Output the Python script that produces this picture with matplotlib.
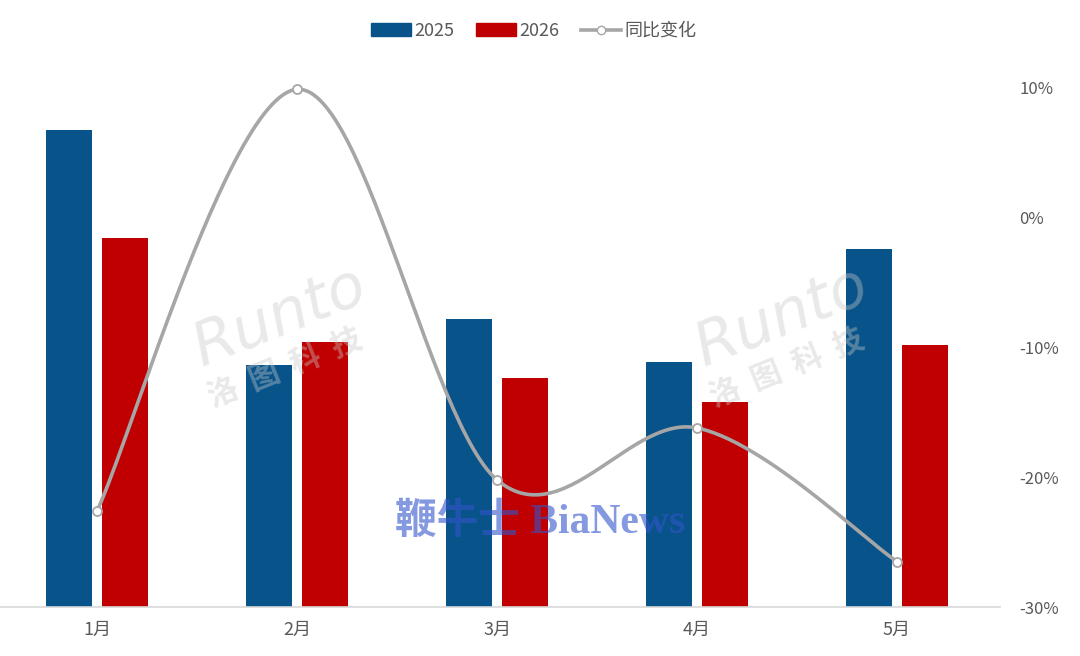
import numpy as np
import matplotlib.pyplot as plt
from matplotlib.patches import Patch
from matplotlib.lines import Line2D

plt.rcParams['font.family'] = ['Noto Sans CJK SC', 'DejaVu Sans']

# data
months = ['1月', '2月', '3月', '4月', '5月']
sales_2025 = [477, 242, 288, 245, 358]
sales_2026 = [369, 265, 229, 205, 262]
yoy = [-22.6, 9.9, -20.2, -16.2, -26.5]
yoy_ticks = [-30, -20, -10, 0, 10]

blue = '#08538A'
red = '#C00000'
grey_line = '#A6A6A6'
txt = '#595959'


def smooth(xs, ys, n=60):
    # Excel-like smoothed line (bezier through the points)
    xs = np.asarray(xs, float)
    ys = np.asarray(ys, float)
    px = np.concatenate([[xs[0]], xs, [xs[-1]]])
    py = np.concatenate([[ys[0]], ys, [ys[-1]]])
    out_x, out_y = [], []
    t = np.linspace(0, 1, n)
    for i in range(1, len(px) - 2):
        p0 = np.array([px[i], py[i]])
        p3 = np.array([px[i + 1], py[i + 1]])
        c1 = p0 + (p3 - np.array([px[i - 1], py[i - 1]])) / 6
        c2 = p3 - (np.array([px[i + 2], py[i + 2]]) - p0) / 6
        b = ((1 - t) ** 3)[:, None] * p0 + (3 * (1 - t) ** 2 * t)[:, None] * c1 \
            + (3 * (1 - t) * t ** 2)[:, None] * c2 + (t ** 3)[:, None] * p3
        out_x.extend(b[:, 0])
        out_y.extend(b[:, 1])
    return np.array(out_x), np.array(out_y)


fig = plt.figure(figsize=(10.8, 6.56), dpi=100)
ax = fig.add_axes([0.0, 49 / 656, 1000 / 1080, (607 - 88) / 656])

x = np.arange(len(months))
w = 0.23
ax.bar(x - 0.142, sales_2025, width=w, color=blue, zorder=2)
ax.bar(x + 0.142, sales_2026, width=w, color=red, zorder=2)
ax.set_xlim(-0.485, 4.515)
ax.set_ylim(0, 519)
ax.set_yticks([])
ax.set_xticks(x)
ax.set_xticklabels(months, fontsize=13, color=txt)
ax.tick_params(axis='x', length=0, pad=10)
for s in ['top', 'left', 'right']:
    ax.spines[s].set_visible(False)
ax.spines['bottom'].set_color('#D9D9D9')
ax.spines['bottom'].set_linewidth(1.2)

ax2 = ax.twinx()
sx, sy = smooth(x, yoy)
ax2.plot(sx, sy, color=grey_line, lw=2.6, zorder=3, clip_on=False)
ax2.plot(x, yoy, 'o', ms=6.5, mfc='white', mec=grey_line, mew=1.3, zorder=4,
         clip_on=False)
ax2.set_ylim(-30, 10)
ax2.set_yticks(yoy_ticks)
ax2.set_yticklabels([f'{v}%' for v in yoy_ticks], fontsize=12, color=txt)
ax2.tick_params(axis='y', length=0, pad=14)
for s in ['top', 'left', 'right', 'bottom']:
    ax2.spines[s].set_visible(False)

# watermarks
for cx in [280, 782]:
    fig.text(cx / 1080, 1 - 318 / 656, 'Runto', fontsize=44, style='italic',
             color='#C8C8C8', alpha=0.4, rotation=22, ha='center', va='center',
             family=['DejaVu Sans'], zorder=10)
    fig.text((cx + 5) / 1080, 1 - 368 / 656, '洛  图  科  技', fontsize=22,
             fontweight='bold', color='#C8C8C8', alpha=0.4, rotation=22,
             ha='center', va='center', zorder=10)
fig.text(540 / 1080, 1 - 522 / 656, '鞭牛士 BiaNews', fontsize=30,
         fontweight='bold', color='#3355CC', alpha=0.6, ha='center', va='center',
         family=['Liberation Serif', 'Noto Sans CJK SC'], zorder=10)

handles = [Patch(color=blue), Patch(color=red),
           Line2D([0], [0], color=grey_line, lw=2.6, marker='o', ms=6,
                  mfc='white', mec=grey_line)]
fig.legend(handles, ['2025', '2026', '同比变化'], loc='center',
           bbox_to_anchor=(534 / 1080, 1 - 31 / 656), ncol=3, frameon=False,
           fontsize=13, labelcolor=txt, handlelength=2.2, handletextpad=0.2,
           columnspacing=1.2)

fig.savefig('out.png', dpi=100)
